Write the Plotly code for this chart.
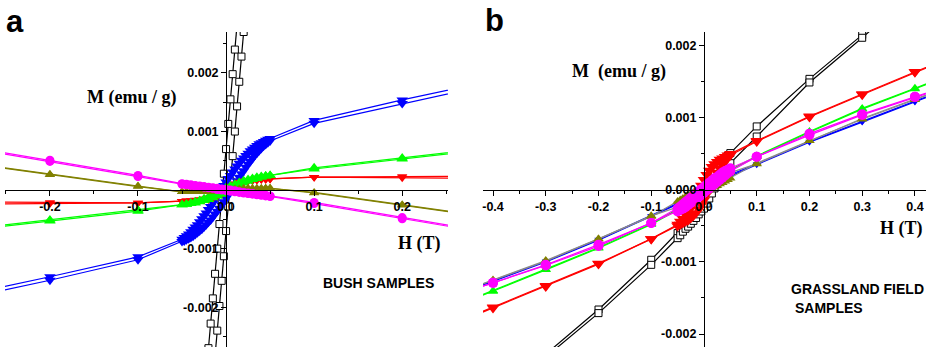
import plotly.graph_objects as go

# ---------------- DATA ----------------
# Panel a (BUSH SAMPLES): field values H (T)
H_A = [-0.3, -0.2, -0.1,
       -0.05, -0.045, -0.04, -0.035, -0.03, -0.025, -0.02, -0.015, -0.01, -0.005, 0.0,
       0.005, 0.01, 0.015, 0.02, 0.025, 0.03, 0.035, 0.04, 0.045, 0.05,
       0.1, 0.2, 0.3]
H_A_FINE = [-0.3, -0.2, -0.1,
            -0.05, -0.0475, -0.045, -0.0425, -0.04, -0.0375, -0.035, -0.0325, -0.03, -0.0275,
            -0.025, -0.0225, -0.02, -0.0175, -0.015, -0.0125, -0.01, -0.0075, -0.005, -0.0025,
            0.0, 0.0025, 0.005, 0.0075, 0.01, 0.0125, 0.015, 0.0175, 0.02, 0.0225,
            0.025, 0.0275, 0.03, 0.0325, 0.035, 0.0375, 0.04, 0.0425, 0.045, 0.0475, 0.05,
            0.1, 0.2, 0.3]
H_A_SQ = [-0.0225, -0.02, -0.0175, -0.015, -0.0125, -0.01, -0.0075, -0.005, -0.0025, 0.0,
          0.0025, 0.005, 0.0075, 0.01, 0.0125, 0.015, 0.0175, 0.02, 0.0225]

A_BLACK_1 = [-0.00313, -0.00270, -0.00228, -0.00185, -0.00143, -0.00100, -0.00058, -0.00015, 0.00028, 0.00070,
             0.00113, 0.00155, 0.00198, 0.00240, 0.00283, 0.00325, 0.00368, 0.00410, 0.00453]
A_BLACK_2 = [-0.00453, -0.00410, -0.00368, -0.00325, -0.00283, -0.00240, -0.00198, -0.00155, -0.00113, -0.00070,
             -0.00028, 0.00015, 0.00058, 0.00100, 0.00143, 0.00185, 0.00228, 0.00270, 0.00313]

A_BLUE_1 = [-0.00186, -0.00154, -0.00119,
            -0.00088, -0.00087, -0.00085, -0.00083, -0.00081, -0.00079, -0.00076, -0.00073, -0.00070, -0.00067,
            -0.00063, -0.00059, -0.00055, -0.00051, -0.00046, -0.00041, -0.00036, -0.00031, -0.00025, -0.00020,
            -0.00014, -0.00008, -0.00002, 0.00004, 0.00010, 0.00016, 0.00022, 0.00028, 0.00033, 0.00039,
            0.00044, 0.00049, 0.00054, 0.00059, 0.00063, 0.00067, 0.00071, 0.00075, 0.00078, 0.00081, 0.00084,
            0.00114, 0.00148, 0.00180]
A_BLUE_2 = [-0.00180, -0.00148, -0.00114,
            -0.00084, -0.00081, -0.00078, -0.00075, -0.00071, -0.00067, -0.00063, -0.00059, -0.00054, -0.00049,
            -0.00044, -0.00039, -0.00033, -0.00028, -0.00022, -0.00016, -0.00010, -0.00004, 0.00002, 0.00008,
            0.00014, 0.00020, 0.00025, 0.00031, 0.00036, 0.00041, 0.00046, 0.00051, 0.00055, 0.00059,
            0.00063, 0.00067, 0.00070, 0.00073, 0.00076, 0.00079, 0.00081, 0.00083, 0.00085, 0.00087, 0.00088,
            0.00119, 0.00154, 0.00186]

A_RED_1 = [-0.00024, -0.00023, -0.00022,
           -0.00019, -0.00019, -0.00019, -0.00018, -0.00018, -0.00017, -0.00016, -0.00014, -0.00011, -0.00007, -0.00003,
           0.00002, 0.00006, 0.00010, 0.00013, 0.00015, 0.00016, 0.00017, 0.00018, 0.00018, 0.00019,
           0.00022, 0.00021, 0.00020]
A_RED_2 = [-0.00020, -0.00021, -0.00022,
           -0.00019, -0.00018, -0.00018, -0.00017, -0.00016, -0.00015, -0.00013, -0.00010, -0.00006, -0.00002, 0.00003,
           0.00007, 0.00011, 0.00014, 0.00016, 0.00017, 0.00018, 0.00018, 0.00019, 0.00019, 0.00019,
           0.00022, 0.00023, 0.00024]

A_GREEN_1 = [-0.00070, -0.00053, -0.00036,
             -0.00025, -0.00024, -0.00023, -0.00022, -0.00020, -0.00018, -0.00016, -0.00013, -0.00010, -0.00007, -0.00004,
             0.00000, 0.00004, 0.00008, 0.00012, 0.00015, 0.00018, 0.00020, 0.00022, 0.00024, 0.00025,
             0.00036, 0.00053, 0.00070]
A_GREEN_2 = [-0.00068, -0.00051, -0.00034,
             -0.00025, -0.00024, -0.00022, -0.00020, -0.00018, -0.00015, -0.00012, -0.00008, -0.00004, 0.00000, 0.00004,
             0.00007, 0.00010, 0.00013, 0.00016, 0.00018, 0.00020, 0.00022, 0.00023, 0.00024, 0.00025,
             0.00038, 0.00055, 0.00072]

A_OLIVE_1 = [0.00047, 0.00026, 0.00006,
             -0.00003, -0.00003, -0.00003, -0.00003, -0.00003, -0.00003, -0.00003, -0.00002, -0.00002, -0.00001, -0.00001,
             0.00000, 0.00000, 0.00001, 0.00001, 0.00002, 0.00002, 0.00002, 0.00002, 0.00003, 0.00003,
             -0.00005, -0.00026, -0.00047]
A_OLIVE_2 = [0.00048, 0.00027, 0.00007,
             -0.00003, -0.00003, -0.00002, -0.00002, -0.00002, -0.00002, -0.00001, -0.00001, 0.00000, 0.00000, 0.00001,
             0.00001, 0.00002, 0.00002, 0.00003, 0.00003, 0.00003, 0.00003, 0.00003, 0.00003, 0.00003,
             -0.00004, -0.00025, -0.00046]

A_MAG_1 = [0.00074, 0.00049, 0.00023,
           0.00010, 0.00009, 0.00008, 0.00007, 0.00006, 0.00005, 0.00004, 0.00003, 0.00001, 0.00000, -0.00001,
           -0.00002, -0.00003, -0.00004, -0.00005, -0.00006, -0.00007, -0.00008, -0.00009, -0.00010, -0.00011,
           -0.00023, -0.00049, -0.00074]
A_MAG_2 = [0.00076, 0.00051, 0.00025,
           0.00011, 0.00010, 0.00009, 0.00008, 0.00007, 0.00006, 0.00005, 0.00004, 0.00003, 0.00002, 0.00001,
           0.00000, -0.00001, -0.00003, -0.00004, -0.00005, -0.00006, -0.00007, -0.00008, -0.00009, -0.00010,
           -0.00021, -0.00047, -0.00072]

# Panel b (GRASSLAND FIELD SAMPLES)
H_B = [-0.5, -0.4, -0.3, -0.2, -0.1,
       -0.05, -0.045, -0.04, -0.035, -0.03, -0.025, -0.02, -0.015, -0.01, -0.005, 0.0,
       0.005, 0.01, 0.015, 0.02, 0.025, 0.03, 0.035, 0.04, 0.045, 0.05,
       0.1, 0.2, 0.3, 0.4, 0.5]

B_BLACK_1 = [-0.00360, -0.00290, -0.00228, -0.00166, -0.00097,
             -0.00060, -0.00055, -0.00050, -0.00045, -0.00039, -0.00033, -0.00027, -0.00020, -0.00014, -0.00007, -0.00001,
             0.00006, 0.00012, 0.00018, 0.00024, 0.00029, 0.00034, 0.00039, 0.00043, 0.00047, 0.00051,
             0.00088, 0.00154, 0.00215, 0.00278, 0.00340]
B_BLACK_2 = [-0.00360, -0.00292, -0.00232, -0.00171, -0.00104,
             -0.00067, -0.00063, -0.00058, -0.00054, -0.00051, -0.00047, -0.00043, -0.00039, -0.00034, -0.00030, -0.00026,
             -0.00019, -0.00012, -0.00005, 0.00002, 0.00008, 0.00014, 0.00020, 0.00026, 0.00032, 0.00037,
             0.00074, 0.00149, 0.00211, 0.00275, 0.00340]

B_RED_1 = [-0.00194, -0.00164, -0.00134, -0.00103, -0.00068,
           -0.00050, -0.00048, -0.00046, -0.00044, -0.00042, -0.00039, -0.00036, -0.00032, -0.00027, -0.00021, -0.00014,
           -0.00006, 0.00003, 0.00011, 0.00018, 0.00024, 0.00030, 0.00035, 0.00040, 0.00044, 0.00048,
           0.00067, 0.00101, 0.00132, 0.00163, 0.00193]
B_RED_2 = [-0.00193, -0.00163, -0.00133, -0.00102, -0.00068,
           -0.00048, -0.00044, -0.00040, -0.00035, -0.00030, -0.00024, -0.00018, -0.00011, -0.00003, 0.00006, 0.00014,
           0.00021, 0.00027, 0.00032, 0.00036, 0.00039, 0.00042, 0.00044, 0.00046, 0.00048, 0.00050,
           0.00068, 0.00102, 0.00133, 0.00164, 0.00194]

B_BLUE_1 = [-0.00154, -0.00127, -0.00100, -0.00070, -0.00037,
            -0.00021, -0.00019, -0.00017, -0.00015, -0.00013, -0.00011, -0.00009, -0.00007, -0.00005, -0.00003, -0.00001,
            0.00001, 0.00003, 0.00005, 0.00007, 0.00009, 0.00011, 0.00013, 0.00015, 0.00017, 0.00019,
            0.00035, 0.00066, 0.00094, 0.00122, 0.00150]
B_BLUE_2 = [-0.00153, -0.00126, -0.00099, -0.00069, -0.00036,
            -0.00019, -0.00017, -0.00015, -0.00013, -0.00011, -0.00009, -0.00007, -0.00005, -0.00003, -0.00001, 0.00001,
            0.00003, 0.00005, 0.00007, 0.00009, 0.00011, 0.00013, 0.00015, 0.00017, 0.00019, 0.00021,
            0.00036, 0.00067, 0.00095, 0.00123, 0.00151]

B_GREEN_1 = [-0.00170, -0.00141, -0.00111, -0.00081, -0.00048,
             -0.00028, -0.00026, -0.00024, -0.00022, -0.00020, -0.00017, -0.00014, -0.00011, -0.00008, -0.00005, -0.00002,
             0.00001, 0.00004, 0.00007, 0.00010, 0.00013, 0.00016, 0.00019, 0.00022, 0.00024, 0.00027,
             0.00046, 0.00080, 0.00112, 0.00140, 0.00168]
B_GREEN_2 = [-0.00169, -0.00140, -0.00110, -0.00080, -0.00047,
             -0.00027, -0.00024, -0.00022, -0.00019, -0.00016, -0.00013, -0.00010, -0.00007, -0.00004, -0.00001, 0.00002,
             0.00005, 0.00008, 0.00011, 0.00014, 0.00017, 0.00020, 0.00022, 0.00024, 0.00026, 0.00028,
             0.00047, 0.00081, 0.00113, 0.00141, 0.00169]

B_OLIVE_1 = [-0.00152, -0.00126, -0.00099, -0.00068, -0.00036,
             -0.00024, -0.00022, -0.00020, -0.00018, -0.00016, -0.00014, -0.00012, -0.00010, -0.00008, -0.00006, -0.00004,
             -0.00002, 0.00000, 0.00002, 0.00004, 0.00006, 0.00008, 0.00010, 0.00012, 0.00014, 0.00016,
             0.00037, 0.00068, 0.00098, 0.00125, 0.00152]
B_OLIVE_2 = [-0.00152, -0.00125, -0.00098, -0.00068, -0.00037,
             -0.00016, -0.00014, -0.00012, -0.00010, -0.00008, -0.00006, -0.00004, -0.00002, 0.00000, 0.00002, 0.00004,
             0.00006, 0.00008, 0.00010, 0.00012, 0.00014, 0.00016, 0.00018, 0.00020, 0.00022, 0.00024,
             0.00036, 0.00068, 0.00099, 0.00126, 0.00152]

B_MAG_1 = [-0.00153, -0.00129, -0.00105, -0.00078, -0.00046,
           -0.00030, -0.00028, -0.00026, -0.00024, -0.00021, -0.00018, -0.00016, -0.00013, -0.00010, -0.00007, -0.00004,
           -0.00001, 0.00002, 0.00005, 0.00008, 0.00011, 0.00014, 0.00017, 0.00020, 0.00023, 0.00026,
           0.00046, 0.00076, 0.00104, 0.00129, 0.00152]
B_MAG_2 = [-0.00152, -0.00129, -0.00104, -0.00076, -0.00046,
           -0.00026, -0.00023, -0.00020, -0.00017, -0.00014, -0.00011, -0.00008, -0.00005, -0.00002, 0.00001, 0.00004,
           0.00007, 0.00010, 0.00013, 0.00016, 0.00018, 0.00021, 0.00024, 0.00026, 0.00028, 0.00030,
           0.00046, 0.00078, 0.00105, 0.00129, 0.00153]

A_XTICKS = [-0.2, -0.1, 0.0, 0.1, 0.2]
A_XTEXT = ["-0.2", "-0.1", "0.0", "0.1", "0.2"]
A_YTICKS = [-0.002, -0.001, 0.001, 0.002]
A_YTEXT = ["-0.002", "-0.001", "0.001", "0.002"]
B_XTICKS = [-0.4, -0.3, -0.2, -0.1, 0.0, 0.1, 0.2, 0.3, 0.4]
B_XTEXT = ["-0.4", "-0.3", "-0.2", "-0.1", "0.0", "0.1", "0.2", "0.3", "0.4"]
B_YTICKS = [-0.002, -0.001, 0.0, 0.001, 0.002]
B_YTEXT = ["-0.002", "-0.001", "0.000", "0.001", "0.002"]

# ---------------- LAYOUT GEOMETRY ----------------
W, HGT = 934, 350
XA_DOM = [5 / W, 448 / W]
XB_DOM = [483 / W, 926 / W]
Y_DOM = [1 - 347 / HGT, 1 - 32 / HGT]
XA_RNG = [-0.251, 0.252]
YA_RNG = [-0.00268, 0.0027]
XB_RNG = [-0.419, 0.421]
YB_RNG = [-0.00218, 0.00219]


def zero_pos(rng, dom):
    return dom[0] + (0 - rng[0]) / (rng[1] - rng[0]) * (dom[1] - dom[0])


def px(x, y):
    return x / W, 1 - y / HGT


fig = go.Figure()

LW = 1.2


def add(xs, ys, color, symbol, size, xa, ya, linecolor=None, open_=False):
    if open_:
        marker = dict(symbol=symbol, size=size, color="white",
                      line=dict(color=color, width=1))
    else:
        marker = dict(symbol=symbol, size=size, color=color, line=dict(width=0))
    fig.add_trace(go.Scatter(x=xs, y=ys, mode="lines+markers", xaxis=xa, yaxis=ya,
                             line=dict(color=linecolor or color, width=LW),
                             marker=marker, showlegend=False, hoverinfo="skip"))


# Panel a
for ys in (A_BLACK_1, A_BLACK_2):
    add(H_A_SQ, ys, "black", "square", 7, "x", "y", open_=True)
for ys in (A_BLUE_1, A_BLUE_2):
    add(H_A_FINE, ys, "#0000ff", "triangle-down", 10, "x", "y")
for ys in (A_RED_1, A_RED_2):
    add(H_A, ys, "#ff0000", "triangle-down", 9, "x", "y")
for ys in (A_GREEN_1, A_GREEN_2):
    add(H_A, ys, "#00ff00", "triangle-up", 10, "x", "y")
for ys in (A_OLIVE_1, A_OLIVE_2):
    add(H_A, ys, "#808000", "triangle-up", 9, "x", "y")
for ys in (A_MAG_1, A_MAG_2):
    add(H_A, ys, "#ff00ff", "circle", 9, "x", "y")

# Panel b
for ys in (B_BLACK_1, B_BLACK_2):
    add(H_B, ys, "black", "square", 7, "x2", "y2", open_=True)
for ys in (B_RED_1, B_RED_2):
    add(H_B, ys, "#ff0000", "triangle-down", 11, "x2", "y2")
for ys in (B_BLUE_1, B_BLUE_2):
    add(H_B, ys, "#0000ff", "triangle-down", 7, "x2", "y2")
for ys in (B_GREEN_1, B_GREEN_2):
    add(H_B, ys, "#00ff00", "triangle-up", 9, "x2", "y2")
for ys in (B_OLIVE_1, B_OLIVE_2):
    add(H_B, ys, "#808000", "triangle-up", 9, "x2", "y2", linecolor="#8a8a8a")
for ys in (B_MAG_1, B_MAG_2):
    add(H_B, ys, "#ff00ff", "circle", 10, "x2", "y2")

TICKFONT = dict(family="Arial, Liberation Sans", size=12.5, color="black")


def bold(lst):
    return ["<b>%s</b>" % t for t in lst]


def xaxis(dom, rng, yrng, tv, tt):
    return dict(domain=dom, range=rng, anchor="free", position=zero_pos(yrng, Y_DOM),
                showline=True, linecolor="black", linewidth=1, showgrid=False, zeroline=False,
                ticks="outside", ticklen=5, tickcolor="black", tickwidth=1,
                tickmode="array", tickvals=tv, ticktext=bold(tt), tickfont=TICKFONT,
                minor=dict(tickmode="linear", tick0=0, dtick=0.05, ticks="outside",
                           ticklen=3, tickcolor="black", tickwidth=1),
                fixedrange=True)


def yaxis(rng, xdom, xrng, tv, tt):
    return dict(domain=Y_DOM, range=rng, anchor="free", position=zero_pos(xrng, xdom),
                showline=True, linecolor="black", linewidth=1, showgrid=False, zeroline=False,
                ticks="outside", ticklen=5, tickcolor="black", tickwidth=1,
                tickmode="array", tickvals=tv, ticktext=bold(tt), tickfont=TICKFONT,
                minor=dict(tickmode="linear", tick0=0, dtick=0.0005, ticks="outside",
                           ticklen=3, tickcolor="black", tickwidth=1),
                fixedrange=True)


fig.update_layout(
    width=W, height=HGT, autosize=False,
    margin=dict(l=0, r=0, t=0, b=0, pad=0),
    paper_bgcolor="white", plot_bgcolor="white",
    xaxis=xaxis(XA_DOM, XA_RNG, YA_RNG, A_XTICKS, A_XTEXT),
    yaxis=yaxis(YA_RNG, XA_DOM, XA_RNG, A_YTICKS, A_YTEXT),
    xaxis2=xaxis(XB_DOM, XB_RNG, YB_RNG, B_XTICKS, B_XTEXT),
    yaxis2=yaxis(YB_RNG, XB_DOM, XB_RNG, B_YTICKS, B_YTEXT),
)

SERIF = dict(family="Liberation Serif, Times New Roman", size=18, color="black")
SANS14 = dict(family="Arial, Liberation Sans", size=14, color="black")
SANS_BIG = dict(family="Arial, Liberation Sans", size=31, color="black")


def note(text, x, y, font, xanchor="center"):
    xp, yp = px(x, y)
    fig.add_annotation(text=text, x=xp, y=yp, xref="paper", yref="paper",
                       xanchor=xanchor, yanchor="middle", showarrow=False, font=font)


note("<b>a</b>", 15, 22, SANS_BIG)
note("<b>b</b>", 494, 20, SANS_BIG)
note("<b>M (emu / g)</b>", 131, 97, SERIF)
note("<b>H (T)</b>", 419, 243, SERIF)
note("<b>BUSH SAMPLES</b>", 378, 283, SANS14)
note("<b>M\u00a0 (emu / g)</b>", 619, 71, SERIF)
note("<b>H (T)</b>", 901, 228, SERIF)
note("<b>GRASSLAND FIELD</b>", 789, 289, SANS14, xanchor="left")
note("<b>SAMPLES</b>", 793, 308, SANS14, xanchor="left")

fig.write_html("out.html")
